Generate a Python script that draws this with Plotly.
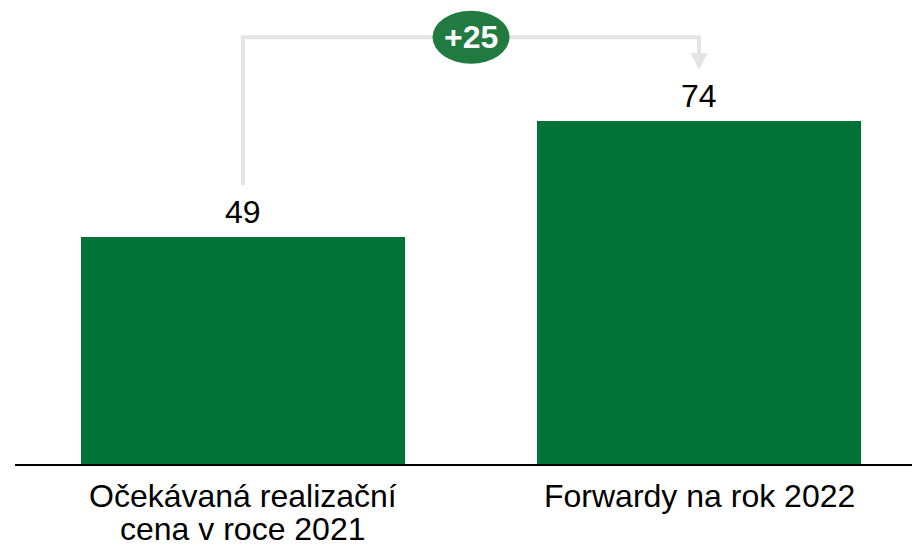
import plotly.graph_objects as go

categories = [["Očekávaná realizační", "cena v roce 2021"], ["Forwardy na rok 2022"]]
values = [49, 74]
delta_label = "+25"

BAR_COLOR = "#007336"
BADGE_COLOR = "#217a3f"
LINE_COLOR = "#e4e4e4"
FONT = "Liberation Sans, Arial, sans-serif"

x = list(range(len(values)))

fig = go.Figure()
fig.add_trace(go.Bar(
    x=x, y=values, width=0.7105, marker_color=BAR_COLOR,
    marker_line_width=0, hoverinfo="skip"
))

# value labels
for xi, v in zip(x, values):
    fig.add_annotation(x=xi, y=v, text=str(v), showarrow=False, yanchor="bottom",
                       yshift=5, font=dict(family=FONT, size=32, color="#000000"))

# category labels (tight line spacing)
for xi, lines in zip(x, categories):
    for i, line in enumerate(lines):
        fig.add_annotation(x=xi, y=0, text=line, showarrow=False, yanchor="middle",
                           yshift=-32 - 33 * i,
                           font=dict(family=FONT, size=32, color="#000000"))

# connector
y_top = 92.2
y_start = values[0] + 11.26
y_shaft = values[1] + 14.8
y_tip = values[1] + 11.1
fig.add_shape(type="path",
              path=f"M {x[0]},{y_start} L {x[0]},{y_top} L {x[1]},{y_top} L {x[1]},{y_shaft}",
              line=dict(color=LINE_COLOR, width=4))
fig.add_shape(type="path",
              path=f"M {x[1]-0.0186},{y_shaft} L {x[1]+0.0186},{y_shaft} L {x[1]},{y_tip} Z",
              fillcolor=LINE_COLOR, line=dict(width=0))

# badge
xm = (x[0] + x[1]) / 2
fig.add_shape(type="circle", x0=xm - 0.0844, x1=xm + 0.0844, y0=y_top - 5.72, y1=y_top + 5.72,
              fillcolor=BADGE_COLOR, line=dict(width=0))
fig.add_annotation(x=xm, y=y_top, text=f"<b>{delta_label}</b>", showarrow=False,
                   font=dict(family=FONT, size=32, color="#ffffff"))

fig.update_layout(
    width=920, height=546,
    margin=dict(l=7, r=0, t=0, b=90),
    paper_bgcolor="white", plot_bgcolor="white",
    showlegend=False,
    bargap=0,
    xaxis=dict(range=[-0.5, 1.502], showticklabels=False,
               showline=True, linecolor="#000000", linewidth=2,
               showgrid=False, zeroline=False, ticks=""),
    yaxis=dict(range=[0, 98.5], visible=False, showgrid=False, zeroline=False),
)

fig.write_html("out.html")
